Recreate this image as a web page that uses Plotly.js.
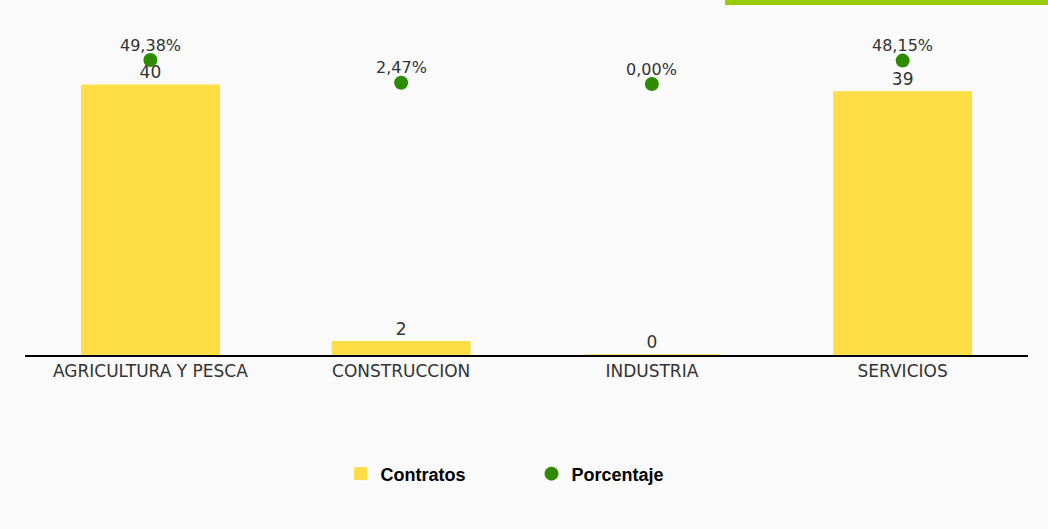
<!DOCTYPE html>
<html>
<head>
<meta charset="utf-8">
<script src="https://cdn.plot.ly/plotly-3.0.1.min.js"></script>
<style>html,body{margin:0;padding:0;background:#fafafa;}#chart{width:1048px;height:529px;}</style>
</head>
<body>
<div id="chart"></div>
<script>
var categories = ["AGRICULTURA Y PESCA", "CONSTRUCCION", "INDUSTRIA", "SERVICIOS"];
var contratos = [40, 2, 0, 39];
var porcentaje = [49.38, 2.47, 0.00, 48.15];

var traces = [
  {
    type: 'bar', name: 'Contratos', x: categories, y: contratos,
    marker: {color: '#FFDD44', line: {color: '#FFDD44', width: 1}},
    text: contratos.map(String), textposition: 'outside', cliponaxis: false,
    textfont: {family: 'DejaVu Sans', size: 17, color: '#333333'},
    hoverinfo: 'x+y'
  },
  {
    type: 'scatter', mode: 'markers', name: 'Porcentaje', x: categories, y: porcentaje,
    yaxis: 'y2', marker: {color: '#2E8B00', size: 14}, cliponaxis: false
  }
];

var pctAnnotations = categories.map(function (c, i) {
  return {
    x: c, y: porcentaje[i], xref: 'x', yref: 'y2',
    text: porcentaje[i].toFixed(2).replace('.', ',') + '%',
    showarrow: false, xanchor: 'center', yanchor: 'middle', yshift: 15,
    font: {family: 'DejaVu Sans', size: 16, color: '#333333'}
  };
});

var layout = {
  width: 1048, height: 529,
  paper_bgcolor: '#fafafa', plot_bgcolor: '#fafafa',
  margin: {l: 25, r: 20, t: 20, b: 174},
  bargap: 0.45,
  showlegend: true,
  xaxis: {
    showline: true, linecolor: '#000000', linewidth: 2, ticks: '',
    tickfont: {family: 'DejaVu Sans', size: 17, color: '#333333'},
    showgrid: false, zeroline: false, fixedrange: true
  },
  yaxis: {range: [0, 49.63], visible: false, showgrid: false, zeroline: false, fixedrange: true},
  yaxis2: {range: [-557.6, 131.7], overlaying: 'y', visible: false, showgrid: false, zeroline: false, fixedrange: true},
  legend: {
    orientation: 'h', x: 0.505, xanchor: 'center', y: -0.355, yanchor: 'middle',
    font: {family: 'Liberation Sans, Arial', size: 18, color: '#000000', weight: 'bold'},
    bgcolor: 'rgba(0,0,0,0)', traceorder: 'normal', entrywidth: 146
  },
  annotations: pctAnnotations,
  shapes: [
    {type: 'rect', xref: 'paper', yref: 'paper', x0: 0.698, x1: 1.03, y0: 1.0448, y1: 1.07,
     fillcolor: '#99CC00', line: {width: 0}, layer: 'above'}
  ]
};

Plotly.newPlot('chart', traces, layout, {displayModeBar: false, staticPlot: true});
</script>
</body>
</html>
